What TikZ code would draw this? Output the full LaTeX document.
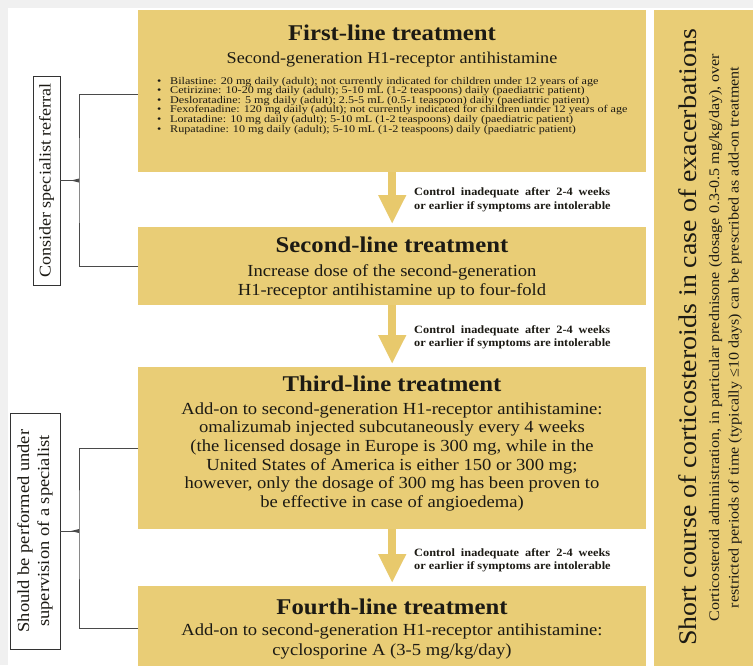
\documentclass[tikz,border=0pt]{standalone}
\usepackage{fontspec}
\setmainfont{Liberation Serif}[FakeStretch=1.1]
\newfontfamily\widefont{Liberation Serif}[FakeStretch=1.18]
\usetikzlibrary{arrows.meta}
\definecolor{gold}{HTML}{E9CD76}
\definecolor{goldarrow}{HTML}{E8C96C}
\definecolor{ink}{HTML}{1C1A14}
\definecolor{brackc}{HTML}{4A4A4A}
\begin{document}
\begin{tikzpicture}[x=1pt,y=-1pt,
  box/.style={fill=gold, draw=none, inner sep=0pt, anchor=north west},
  ttl/.style={inner sep=0pt, text=ink, font=\fontsize{22.5}{24}\selectfont\bfseries},
  sub/.style={inner sep=0pt, text=ink, font=\fontsize{16.5}{18}\selectfont},
  body/.style={inner sep=0pt, text=ink, font=\fontsize{16.9}{18.7}\selectfont},
  bul/.style={inner sep=0pt, text=ink, anchor=base west, text height=6.8pt, text depth=2.2pt, font=\widefont\fontsize{10.3}{9.5}\selectfont},
  lbl/.style={inner sep=0pt, text=ink, anchor=base west, font=\fontsize{11.2}{13}\selectfont\bfseries},
  flow/.style={goldarrow, line width=8pt, -{Triangle[width=26pt,length=29pt]}},
  brk/.style={draw=brackc, line width=0.9pt},
  sidelab/.style={draw=black!80, line width=0.8pt, rotate=90, inner sep=0pt, text=ink, align=center}
]
\useasboundingbox (0,0) rectangle (753,665);
\fill[black!6] (0,0) rectangle (753,665);
\fill[white] (8,8) rectangle (753,665);

% boxes
\node[box, minimum width=508pt, minimum height=162pt] (b1) at (138,10) {};
\node[box, minimum width=508pt, minimum height=78pt] (b2) at (138,227) {};
\node[box, minimum width=508pt, minimum height=162pt] (b3) at (138,367) {};
\node[box, minimum width=508pt, minimum height=84pt] (b4) at (138,586) {};
\node[box, minimum width=99pt, minimum height=660pt] (rb) at (654,10) {};

% arrows
\draw[flow] (b1.south) -- ([yshift=3pt]b2.north);
\draw[flow] (b2.south) -- ([yshift=3pt]b3.north);
\draw[flow] (b3.south) -- ([yshift=3pt]b4.north);

% box 1
\node[ttl, anchor=base] (t1) at (392,40.5) {First-line treatment};
\node[sub, anchor=base] (s1) at (392,63) {Second-generation H1-receptor antihistamine};
\node[bul] (l1) at (157,84) {\makebox[13pt][l]{\textbullet}Bilastine: 20 mg daily (adult); not currently indicated for children under 12 years of age};
\node[bul] (l2) at (157,93.6) {\makebox[13pt][l]{\textbullet}Cetirizine: 10-20 mg daily (adult); 5-10 mL (1-2 teaspoons) daily (paediatric patient)};
\node[bul] (l3) at (157,103.2) {\makebox[13pt][l]{\textbullet}Desloratadine: 5 mg daily (adult); 2.5-5 mL (0.5-1 teaspoon) daily (paediatric patient)};
\node[bul] (l4) at (157,112.8) {\makebox[13pt][l]{\textbullet}Fexofenadine: 120 mg daily (adult); not currently indicated for children under 12 years of age};
\node[bul] (l5) at (157,122.4) {\makebox[13pt][l]{\textbullet}Loratadine: 10 mg daily (adult); 5-10 mL (1-2 teaspoons) daily (paediatric patient)};
\node[bul] (l6) at (157,132) {\makebox[13pt][l]{\textbullet}Rupatadine: 10 mg daily (adult); 5-10 mL (1-2 teaspoons) daily (paediatric patient)};

% box 2
\node[ttl, anchor=base] (t2) at (392,252) {Second-line treatment};
\node[body, anchor=base] (s2a) at (392,276) {Increase dose of the second-generation};
\node[body, anchor=base] (s2b) at (392,295) {H1-receptor antihistamine up to four-fold};

% box 3
\node[ttl, anchor=base] (t3) at (392,391) {Third-line treatment};
\node[body, anchor=base] (s3a) at (392,414) {Add-on to second-generation H1-receptor antihistamine:};
\node[body, anchor=base] (s3b) at (392,432.7) {omalizumab injected subcutaneously every 4 weeks};
\node[body, anchor=base] (s3c) at (392,451.4) {(the licensed dosage in Europe is 300 mg, while in the};
\node[body, anchor=base] (s3d) at (392,470.1) {United States of America is either 150 or 300 mg;};
\node[body, anchor=base] (s3e) at (392,488.8) {however, only the dosage of 300 mg has been proven to};
\node[body, anchor=base] (s3f) at (392,507.5) {be effective in case of angioedema)};

% box 4
\node[ttl, anchor=base] (t4) at (392,614) {Fourth-line treatment};
\node[body, anchor=base] (s4a) at (392,635) {Add-on to second-generation H1-receptor antihistamine:};
\node[body, anchor=base] (s4b) at (392,655) {cyclosporine A (3-5 mg/kg/day)};

% connector labels
\node[lbl] (c1a) at (414,195) {\makebox[196pt][s]{Control inadequate after 2-4 weeks}};
\node[lbl] (c1b) at (414,209) {or earlier if symptoms are intolerable};
\node[lbl] (c2a) at (414,333) {\makebox[196pt][s]{Control inadequate after 2-4 weeks}};
\node[lbl] (c2b) at (414,346) {or earlier if symptoms are intolerable};
\node[lbl] (c3a) at (414,556) {\makebox[196pt][s]{Control inadequate after 2-4 weeks}};
\node[lbl] (c3b) at (414,569) {or earlier if symptoms are intolerable};

% right box
\node[rotate=90, inner sep=0pt, text=ink, font=\fontsize{25.4}{27}\selectfont] (rt) at (688,337.5) {Short course of corticosteroids in case of exacerbations};
\node[rotate=90, inner sep=0pt, text=ink, align=center, font=\fontsize{14.6}{19.5}\selectfont] (rs) at (725.5,337.5) {Corticosteroid administration, in particular prednisone (dosage 0.3-0.5 mg/kg/day), over\\restricted periods of time (typically ≤10 days) can be prescribed as add-on treatment};

% left labels and brackets
\node[sidelab, minimum width=209pt, minimum height=27pt, font=\fontsize{16.4}{18}\selectfont] (lab1) at (46.5,180.5) {Consider specialist referral};
\node[sidelab, minimum width=236pt, minimum height=50pt, font=\fontsize{16.8}{20}\selectfont] (lab2) at (35,531) {Should be performed under\\supervision of a specialist};

\coordinate (j1) at (79,180.5);
\coordinate (j2) at (79,531);
\draw[brk] ([yshift=-3pt]b1.west) -| (j1) |- (b2.west);
\draw[brk] (lab1.south) -- (j1);
\fill[brackc] ([yshift=2pt]j1) -- ([yshift=-2pt]j1) -- ([xshift=-8pt]j1) -- cycle;
\draw[brk] (b3.west) -| (j2) |- (b4.west);
\draw[brk] (lab2.south) -- (j2);
\fill[brackc] ([yshift=2pt]j2) -- ([yshift=-2pt]j2) -- ([xshift=-8pt]j2) -- cycle;
\end{tikzpicture}
\end{document}
